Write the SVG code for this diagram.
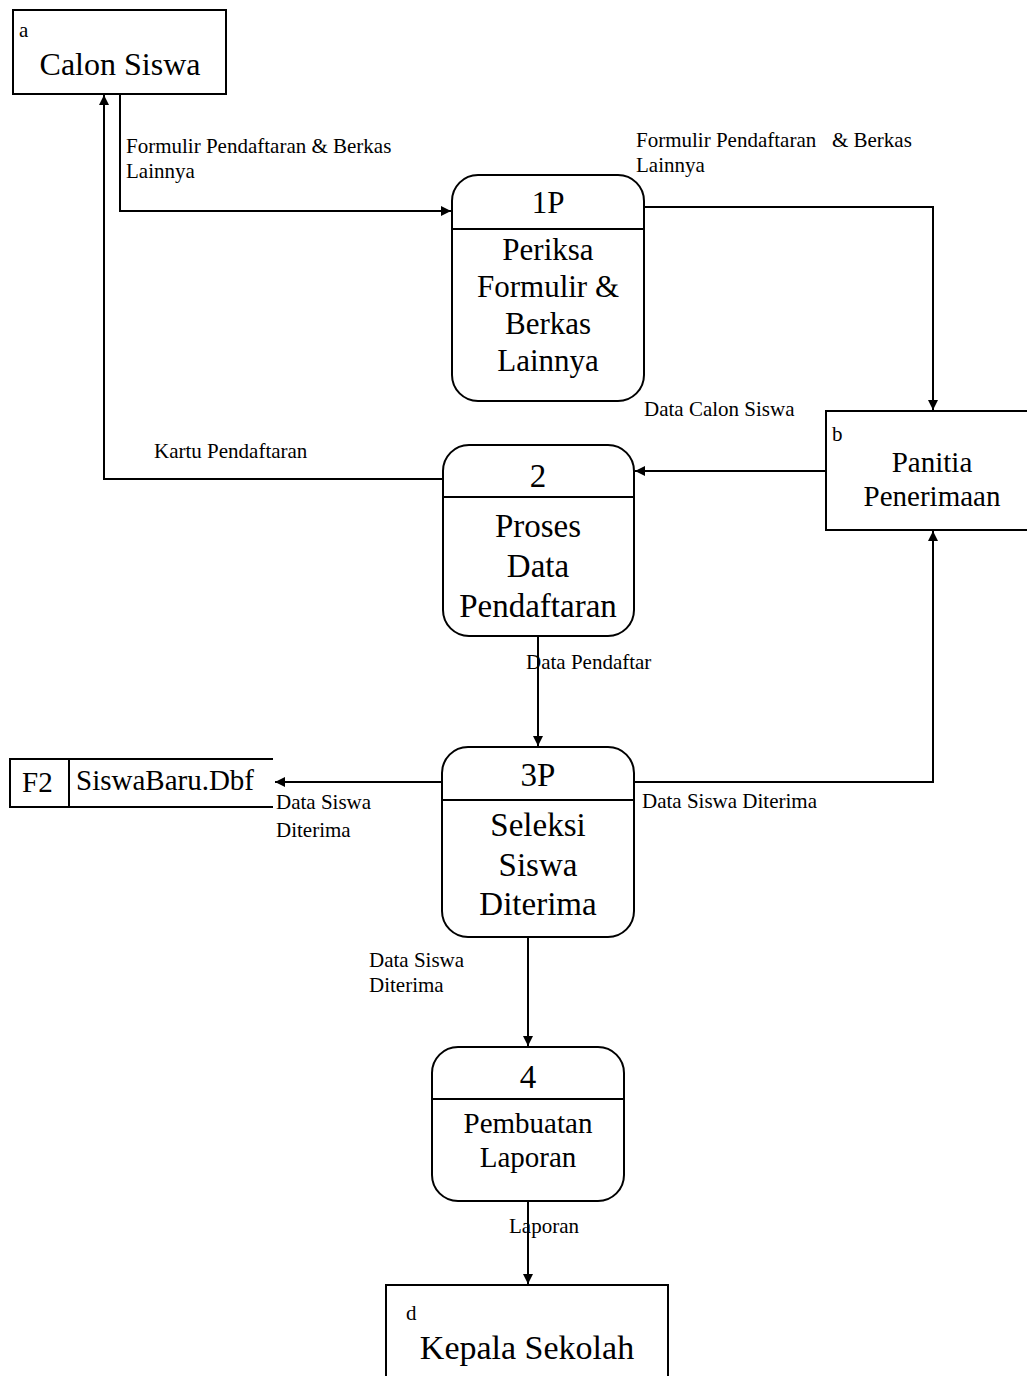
<svg xmlns="http://www.w3.org/2000/svg" width="1027" height="1376" viewBox="0 0 1027 1376">
  <style>
    .box { fill: #fff; stroke: #000; stroke-width: 2; }
    .div { stroke: #000; stroke-width: 2; fill: none; }
    .flow { stroke: #000; stroke-width: 2; fill: none; }
    .t { font-family: "Liberation Serif", "Times New Roman", serif; fill: #000; }
    .c { text-anchor: middle; }
    .lbl { font-size: 21px; }
    .tag { font-size: 21px; }
  </style>
  <defs>
    <marker id="arrow" viewBox="0 0 10 10" refX="10" refY="5" markerWidth="10" markerHeight="10" markerUnits="userSpaceOnUse" orient="auto">
      <path d="M0,0 L10,5 L0,10 z" fill="#000"/>
    </marker>
  </defs>

  <rect width="1027" height="1376" fill="#fff"/>

  <!-- data flows -->
  <g id="connectors">
    <polyline class="flow" points="120,94 120,211 451,211" marker-end="url(#arrow)"/>
    <polyline class="flow" points="644,207 933,207 933,410" marker-end="url(#arrow)"/>
    <line class="flow" x1="826" y1="471" x2="635" y2="471" marker-end="url(#arrow)"/>
    <polyline class="flow" points="443,479 104,479 104,95" marker-end="url(#arrow)"/>
    <line class="flow" x1="538" y1="636" x2="538" y2="746" marker-end="url(#arrow)"/>
    <line class="flow" x1="442" y1="782" x2="275" y2="782" marker-end="url(#arrow)"/>
    <polyline class="flow" points="634,782 933,782 933,531" marker-end="url(#arrow)"/>
    <line class="flow" x1="528" y1="937" x2="528" y2="1046" marker-end="url(#arrow)"/>
    <line class="flow" x1="528" y1="1200" x2="528" y2="1284" marker-end="url(#arrow)"/>

    <text class="t lbl" x="126" y="153">Formulir Pendaftaran &amp; Berkas</text>
    <text class="t lbl" x="126" y="178">Lainnya</text>
    <text class="t lbl" x="636" y="147" xml:space="preserve">Formulir Pendaftaran   &amp; Berkas</text>
    <text class="t lbl" x="636" y="172">Lainnya</text>
    <text class="t lbl" x="644" y="416">Data Calon Siswa</text>
    <text class="t lbl" x="154" y="458">Kartu Pendaftaran</text>
    <text class="t lbl" x="526" y="669">Data Pendaftar</text>
    <text class="t lbl" x="276" y="809">Data Siswa</text>
    <text class="t lbl" x="276" y="837">Diterima</text>
    <text class="t lbl" x="642" y="808">Data Siswa Diterima</text>
    <text class="t lbl" x="369" y="967">Data Siswa</text>
    <text class="t lbl" x="369" y="992">Diterima</text>
    <text class="t lbl" x="509" y="1233">Laporan</text>
  </g>

  <!-- external entity a -->
  <g id="calon-siswa">
    <rect class="box" x="13" y="10" width="213" height="84"/>
    <text class="t tag" x="19" y="37">a</text>
    <text class="t c" x="120" y="75" font-size="32">Calon Siswa</text>
  </g>

  <!-- process 1P -->
  <g id="proses-1p">
    <rect class="box" x="452" y="175" width="192" height="226" rx="26" ry="26"/>
    <line class="div" x1="452" y1="229" x2="644" y2="229"/>
    <g font-size="31">
      <text class="t c" x="548" y="213">1P</text>
      <text class="t c" x="548" y="260">Periksa</text>
      <text class="t c" x="548" y="297">Formulir &amp;</text>
      <text class="t c" x="548" y="334">Berkas</text>
      <text class="t c" x="548" y="371">Lainnya</text>
    </g>
  </g>

  <!-- external entity b -->
  <g id="panitia">
    <rect class="box" x="826" y="411" width="210" height="119"/>
    <text class="t tag" x="832" y="441">b</text>
    <text class="t c" x="932" y="472" font-size="29">Panitia</text>
    <text class="t c" x="932" y="506" font-size="29">Penerimaan</text>
  </g>

  <!-- process 2 -->
  <g id="proses-2">
    <rect class="box" x="443" y="445" width="191" height="191" rx="26" ry="26"/>
    <line class="div" x1="443" y1="497" x2="634" y2="497"/>
    <g font-size="33">
      <text class="t c" x="538" y="487">2</text>
      <text class="t c" x="538" y="537">Proses</text>
      <text class="t c" x="538" y="577">Data</text>
      <text class="t c" x="538" y="617">Pendaftaran</text>
    </g>
  </g>

  <!-- data store F2 -->
  <g id="siswabaru-dbf">
    <line class="div" x1="10" y1="759" x2="273" y2="759"/>
    <line class="div" x1="10" y1="807" x2="273" y2="807"/>
    <line class="div" x1="10" y1="758" x2="10" y2="808"/>
    <line class="div" x1="69" y1="759" x2="69" y2="807"/>
    <text class="t" x="22" y="792" font-size="29">F2</text>
    <text class="t" x="76" y="790" font-size="29">SiswaBaru.Dbf</text>
  </g>

  <!-- process 3P -->
  <g id="proses-3p">
    <rect class="box" x="442" y="747" width="192" height="190" rx="26" ry="26"/>
    <line class="div" x1="442" y1="800" x2="634" y2="800"/>
    <g font-size="33">
      <text class="t c" x="538" y="786">3P</text>
      <text class="t c" x="538" y="836">Seleksi</text>
      <text class="t c" x="538" y="876">Siswa</text>
      <text class="t c" x="538" y="915">Diterima</text>
    </g>
  </g>

  <!-- process 4 -->
  <g id="proses-4">
    <rect class="box" x="432" y="1047" width="192" height="154" rx="26" ry="26"/>
    <line class="div" x1="432" y1="1099" x2="624" y2="1099"/>
    <text class="t c" x="528" y="1088" font-size="33">4</text>
    <text class="t c" x="528" y="1133" font-size="29">Pembuatan</text>
    <text class="t c" x="528" y="1167" font-size="29">Laporan</text>
  </g>

  <!-- external entity d -->
  <g id="kepala-sekolah">
    <rect class="box" x="386" y="1285" width="282" height="100"/>
    <text class="t tag" x="406" y="1320">d</text>
    <text class="t c" x="527" y="1359" font-size="34">Kepala Sekolah</text>
  </g>
</svg>
